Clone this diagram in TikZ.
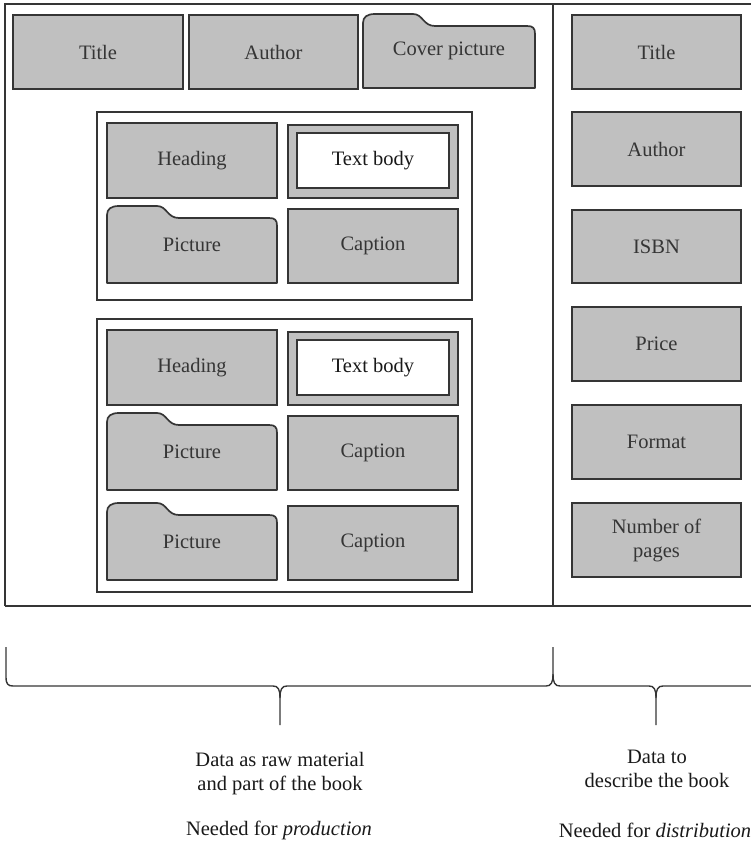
\documentclass[tikz,border=0pt]{standalone}
\usepackage{fontspec}
\setmainfont{Liberation Serif}
\definecolor{linec}{HTML}{353535}
\definecolor{boxg}{HTML}{C0C0C0}
\definecolor{txtc}{HTML}{353535}
\newcommand\myfs{\fontsize{20.5}{24}\selectfont}
\newcommand\folder[6]{%
  \draw[folderline] (#1,#4) -- (#1,{#3+9}) .. controls (#1,{#3+3}) and ({#1+4},#3) .. ({#1+12},#3)
    -- ({#1+50},#3) .. controls ({#1+60},#3) and ({#1+60},{#3+12}) .. ({#1+72},{#3+12})
    -- ({#2-8},{#3+12}) .. controls ({#2-2},{#3+12}) and (#2,{#3+14}) .. (#2,{#3+20})
    -- (#2,#4) -- cycle;
  \node[lbl] (#5) at ({(#1+#2)/2},{(#3+#4)/2}) {#6};}
\begin{document}
\begin{tikzpicture}[x=1pt,y=-1pt,
  box/.style={draw=linec, fill=boxg, line width=1.7pt, minimum width=170pt, minimum height=74pt, inner sep=0pt, text=txtc, font=\myfs, align=center},
  whitebox/.style={draw=linec, fill=white, line width=1.7pt, minimum width=152pt, minimum height=55pt, inner sep=0pt, text=black!90, font=\myfs},
  folderline/.style={draw=linec, fill=boxg, line width=1.7pt, line join=round},
  lbl/.style={text=txtc, font=\myfs, inner sep=0pt},
  frame/.style={draw=linec, line width=1.5pt},
  group/.style={draw=linec, line width=1.5pt},
  bracel/.style={draw=linec, line width=1.4pt},
  btxt/.style={text=black!90, font=\myfs, align=center, inner sep=0pt}]
\useasboundingbox (0,0) rectangle (751,846);
\clip (0,0) rectangle (751,846);
% outer frame
\draw[frame] (5,606) -- (5,4) -- (760,4);
\draw[frame] (5,606) -- (760,606);
\draw[frame] (553,4) -- (553,606);
% top row
\node[box] (title) at (98,52) {Title};
\node[box, minimum width=169pt] (author) at (273.5,52) {Author};
\folder{363}{535}{14}{88}{cover}{Cover picture}
% right column
\node[box, minimum width=169pt] (rtitle) at (656.5,52) {Title};
\node[box, minimum width=169pt] (rauthor) at (656.5,149) {Author};
\node[box, minimum width=169pt, minimum height=73pt] (isbn) at (656.5,246.5) {ISBN};
\node[box, minimum width=169pt] (price) at (656.5,344) {Price};
\node[box, minimum width=169pt] (format) at (656.5,442) {Format};
\node[box, minimum width=169pt] (pages) at (656.5,540) {Number of\\pages};
% group 1
\draw[group] (97,112) rectangle (472,300);
\node[box, minimum height=75pt] (head1) at (192,160.5) {Heading};
\node[box, minimum height=73pt] (tb1o) at (373,161.5) {};
\node[whitebox] (tb1) at (373,160.5) {Text body};
\folder{107}{277}{206}{283}{pic1}{Picture}
\node[box] (cap1) at (373,246) {Caption};
% group 2
\draw[group] (97,319) rectangle (472,592);
\node[box, minimum height=75pt] (head2) at (192,367.5) {Heading};
\node[box, minimum height=73pt] (tb2o) at (373,368.5) {};
\node[whitebox] (tb2) at (373,367.5) {Text body};
\folder{107}{277}{413}{490}{pic2}{Picture}
\node[box] (cap2) at (373,453) {Caption};
\folder{107}{277}{503}{580}{pic3}{Picture}
\node[box] (cap3) at (373,543) {Caption};
% braces
\draw[bracel] (6,647) -- (6,677) .. controls (6,684) and (8,686) .. (13,686) -- (273,686)
  .. controls (278,686) and (280,689) .. (280,698) -- (280,725);
\draw[bracel] (280,698) .. controls (280,689) and (282,686) .. (287,686) -- (546,686)
  .. controls (551,686) and (553,683) .. (553,674) -- (553,647);
\draw[bracel] (553,674) .. controls (553,683) and (555,686) .. (560,686) -- (649,686)
  .. controls (654,686) and (656,689) .. (656,698) -- (656,725);
\draw[bracel] (656,698) .. controls (656,689) and (658,686) .. (663,686) -- (760,686);
% bottom texts
\node[btxt] (d1) at (280,773.5) {Data as raw material\\and part of the book};
\node[btxt] (n1) at (279,830) {Needed for \textit{production}};
\node[btxt] (d2) at (657,769) {Data to\\describe the book};
\node[btxt] (n2) at (655,830) {Needed for \textit{distribution}};
\end{tikzpicture}
\end{document}
